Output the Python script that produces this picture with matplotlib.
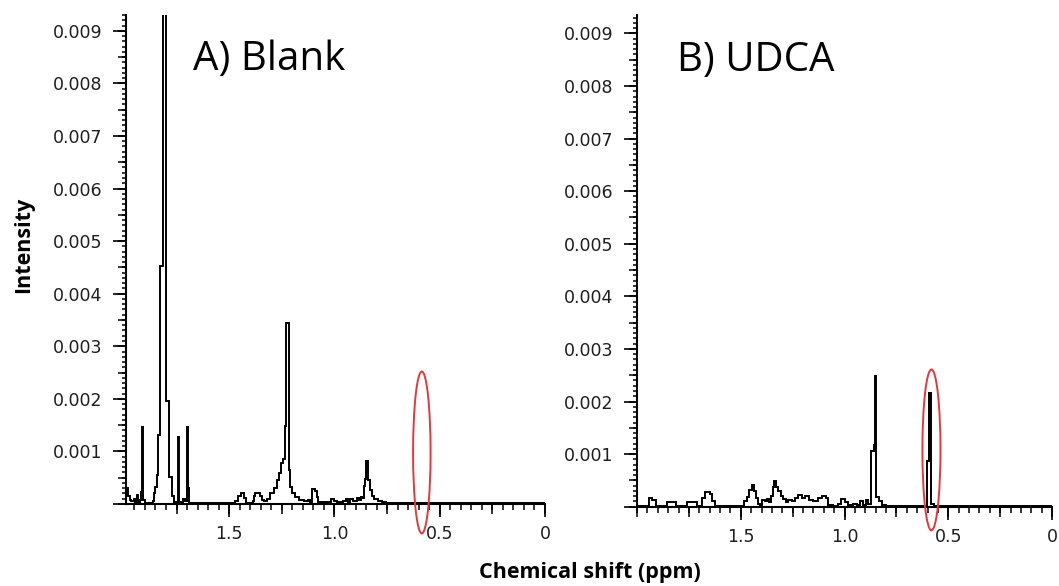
import matplotlib
matplotlib.use("Agg")
import matplotlib.pyplot as plt
from matplotlib.patches import Ellipse
from matplotlib.ticker import MultipleLocator, FixedLocator, NullFormatter

# 1H NMR spectra (chemical shift in ppm, intensity) drawn as stepped traces
blank_ppm = [1.990, 1.981, 1.973, 1.964, 1.954, 1.945, 1.940, 1.935, 1.924, 1.919,
             1.913, 1.907, 1.900, 1.862, 1.857, 1.850, 1.843, 1.836, 1.827, 1.816,
             1.798, 1.784, 1.772, 1.762, 1.745, 1.739, 1.719, 1.712, 1.702, 1.696,
             1.690, 1.470, 1.459, 1.446, 1.431, 1.421, 1.389, 1.384, 1.376, 1.355,
             1.345, 1.335, 1.320, 1.304, 1.288, 1.275, 1.264, 1.252, 1.244, 1.237,
             1.230, 1.218, 1.209, 1.201, 1.185, 1.169, 1.146, 1.127, 1.115, 1.106,
             1.094, 1.083, 1.076, 1.030, 1.018, 1.000, 0.990, 0.960, 0.945, 0.935,
             0.925, 0.910, 0.895, 0.885, 0.876, 0.871, 0.862, 0.855, 0.848, 0.839,
             0.832, 0.822, 0.810, 0.791, 0.772, 0.753, 0.000]
blank_int = [0.00030, 0.00015, 0.00008, 0.00005, 0.00010, 0.00003, 0.00017, 0.00003, 0.00008, 0.00023,
             0.00147, 0.00008, 0.00002, 0.00005, 0.00020, 0.00033, 0.00055, 0.00131, 0.00452, 0.01350,
             0.00195, 0.00052, 0.00015, 0.00004, 0.00128, 0.00003, 0.00010, 0.00006, 0.00147, 0.00030,
             0.00002, 0.00006, 0.00016, 0.00021, 0.00011, 0.00002, 0.00005, 0.00016, 0.00021, 0.00015,
             0.00008, 0.00005, 0.00010, 0.00020, 0.00030, 0.00046, 0.00059, 0.00078, 0.00085, 0.00148,
             0.00344, 0.00065, 0.00033, 0.00020, 0.00013, 0.00008, 0.00005, 0.00007, 0.00003, 0.00029,
             0.00025, 0.00013, 0.00003, 0.00004, 0.00010, 0.00006, 0.00003, 0.00006, 0.00010, 0.00004,
             0.00009, 0.00005, 0.00012, 0.00007, 0.00014, 0.00012, 0.00035, 0.00048, 0.00081, 0.00045,
             0.00027, 0.00016, 0.00010, 0.00006, 0.00003, 0.00001, 0.00001]

udca_ppm = [2.000, 1.944, 1.930, 1.910, 1.854, 1.814, 1.757, 1.709, 1.685, 1.672,
            1.650, 1.637, 1.625, 1.486, 1.470, 1.458, 1.448, 1.437, 1.428, 1.418,
            1.408, 1.400, 1.385, 1.375, 1.366, 1.355, 1.345, 1.338, 1.330, 1.320,
            1.308, 1.296, 1.283, 1.270, 1.255, 1.240, 1.225, 1.205, 1.190, 1.170,
            1.150, 1.130, 1.110, 1.090, 1.078, 1.055, 1.030, 1.015, 1.000, 0.985,
            0.960, 0.940, 0.925, 0.910, 0.895, 0.885, 0.874, 0.859, 0.851, 0.846,
            0.832, 0.820, 0.800, 0.612, 0.602, 0.591, 0.583, 0.570, 0.000]
udca_int = [0.00002, 0.00016, 0.00012, 0.00002, 0.00009, 0.00002, 0.00009, 0.00002, 0.00016, 0.00028,
            0.00024, 0.00010, 0.00001, 0.00010, 0.00019, 0.00031, 0.00041, 0.00029, 0.00016, 0.00005,
            0.00001, 0.00013, 0.00010, 0.00015, 0.00009, 0.00020, 0.00038, 0.00048, 0.00038, 0.00030,
            0.00020, 0.00015, 0.00008, 0.00013, 0.00010, 0.00016, 0.00022, 0.00016, 0.00020, 0.00012,
            0.00010, 0.00017, 0.00021, 0.00016, 0.00004, 0.00002, 0.00006, 0.00015, 0.00008, 0.00003,
            0.00006, 0.00004, 0.00010, 0.00004, 0.00012, 0.00005, 0.00106, 0.00118, 0.00248, 0.00019,
            0.00010, 0.00003, 0.00001, 0.00002, 0.00086, 0.00216, 0.00006, 0.00001, 0.00001]

panel_titles = ["A) Blank", "B) UDCA"]
y_ticks = [0.0, 0.001, 0.002, 0.003, 0.004, 0.005, 0.006, 0.007, 0.008, 0.009]
y_ticklabels = ["", "0.001", "0.002", "0.003", "0.004", "0.005", "0.006", "0.007", "0.008", "0.009"]
x_ticks = [1.5, 1.0, 0.5, 0.0]
x_ticklabels = ["1.5", "1.0", "0.5", "0"]

# highlighted region (ppm centre, intensity centre, ppm width, intensity height)
highlight_A = (0.585, 0.00098, 0.083, 0.00308)
highlight_B = (0.581, 0.00108, 0.087, 0.00306)

W, H = 1059, 586
fig = plt.figure(figsize=(W / 100, H / 100), dpi=100)
fig.patch.set_facecolor("white")

axA = fig.add_axes([126 / W, 1 - 504 / H, (545 - 126) / W, (504 - 15) / H])
axB = fig.add_axes([637 / W, 1 - 506.7 / H, (1052 - 637) / W, (506.7 - 15) / H])

panels = [
    (axA, blank_ppm, blank_int, (1.99, 0.0), (0.0, 0.0093), panel_titles[0], (0.160, 0.888), highlight_A),
    (axB, udca_ppm, udca_int, (2.0, 0.0), (0.0, 0.00935), panel_titles[1], (0.096, 0.887), highlight_B),
]

lw_axis = 1.5
for ax, ppm, inten, xl, yl, title, tpos, hl in panels:
    ax.plot(ppm, inten, drawstyle="steps-post", color="black", lw=1.4, solid_joinstyle="miter")
    ax.set_xlim(*xl)
    ax.set_ylim(*yl)

    for s in ("top", "right"):
        ax.spines[s].set_visible(False)
    for s in ("left", "bottom"):
        ax.spines[s].set_linewidth(lw_axis)

    ax.yaxis.set_major_locator(FixedLocator(y_ticks))
    ax.set_yticklabels(y_ticklabels)
    ax.yaxis.set_minor_locator(MultipleLocator(0.0001))
    ax.xaxis.set_major_locator(FixedLocator(x_ticks))
    ax.set_xticklabels(x_ticklabels)
    ax.xaxis.set_minor_locator(MultipleLocator(0.05))

    ax.tick_params(axis="y", which="major", direction="out", length=9.5, width=1.2,
                   pad=7.5, labelsize=12.5, labelcolor="#1e1e1e")
    ax.tick_params(axis="y", which="minor", direction="out", length=3.0, width=1.1)
    ax.tick_params(axis="x", which="major", direction="out", length=9.5, width=1.2,
                   pad=5.5, labelsize=12.5, labelcolor="#1e1e1e")
    ax.tick_params(axis="x", which="minor", direction="out", length=4.5, width=1.1)

    # intermediate tick marks (every 0.0005 on intensity, every 0.25 ppm on shift)
    sy = ax.secondary_yaxis("left")
    sy.yaxis.set_major_locator(MultipleLocator(0.0005))
    sy.yaxis.set_major_formatter(NullFormatter())
    sy.tick_params(direction="out", length=5.5, width=1.1)
    sy.spines["left"].set_visible(False)
    sx = ax.secondary_xaxis("bottom")
    sx.xaxis.set_major_locator(MultipleLocator(0.25))
    sx.xaxis.set_major_formatter(NullFormatter())
    sx.tick_params(direction="out", length=7.0, width=1.1)
    sx.spines["bottom"].set_visible(False)

    ax.text(tpos[0], tpos[1], title, transform=ax.transAxes, fontsize=29,
            family="Open Sans", color="black", va="baseline", ha="left")

    ell = Ellipse((hl[0], hl[1]), hl[2], hl[3], fill=False, edgecolor="#e8363c",
                  lw=1.4, clip_on=False, zorder=5)
    ax.add_patch(ell)

fig.text(24 / W, 1 - 245 / H, "Intensity", rotation=90, ha="center", va="center",
         fontsize=15.5, fontweight="bold", family="Open Sans")
fig.text(590 / W, 1 - 578 / H, "Chemical shift (ppm)", ha="center", va="baseline",
         fontsize=15.5, fontweight="bold", family="Open Sans")

fig.savefig("out.png", dpi=100, facecolor="white")
